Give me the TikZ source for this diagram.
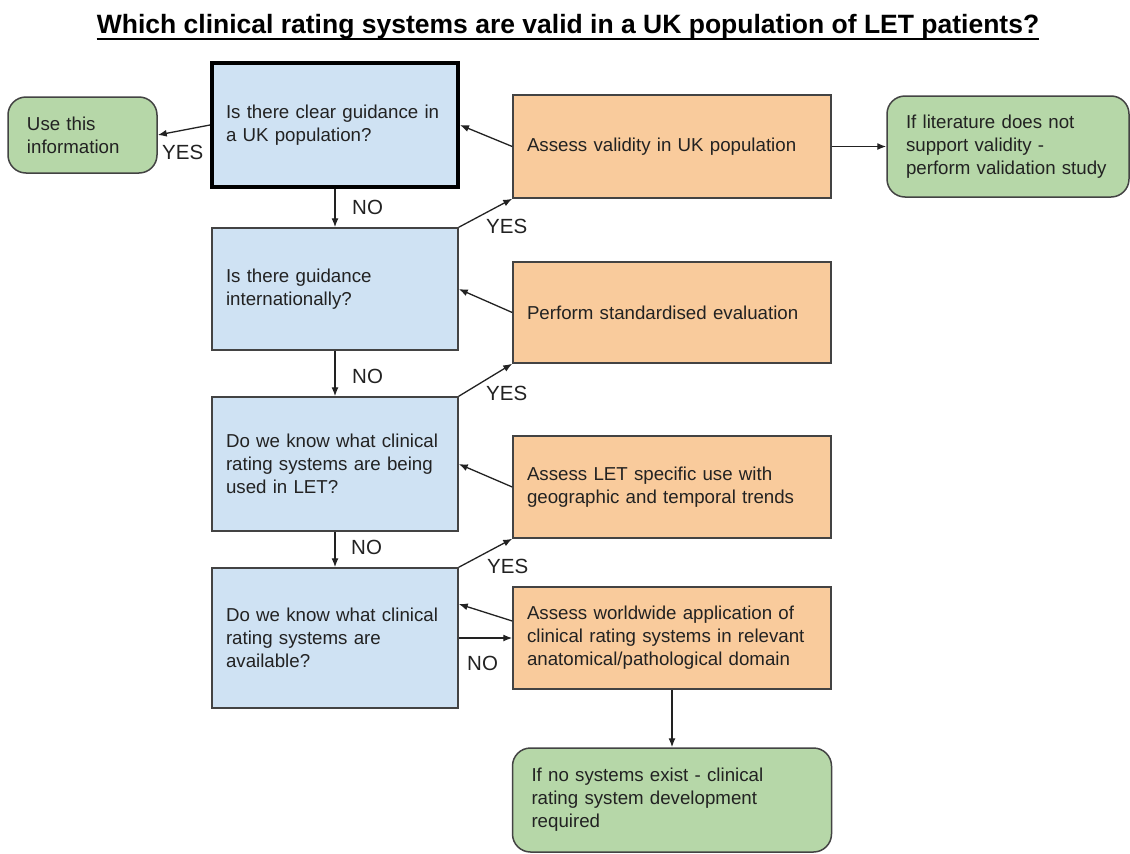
\documentclass[tikz,border=0pt]{standalone}
\usepackage{fontspec}
\setmainfont{Liberation Sans}
\usetikzlibrary{arrows.meta,calc}
\definecolor{qblue}{HTML}{CFE2F3}
\definecolor{qorange}{HTML}{F9CB9C}
\definecolor{qgreen}{HTML}{B6D7A8}
\definecolor{edgec}{HTML}{434343}
\definecolor{ink}{HTML}{222222}
\begin{document}
\begin{tikzpicture}[x=1pt,y=-1pt,
  box/.style={rectangle, draw=edgec, line width=1.5pt, inner xsep=14pt, inner ysep=0pt, align=left, font=\fontsize{18.7}{23}\selectfont, text=ink},
  qbox/.style={box, fill=qblue, text width=218pt, minimum width=246pt},
  abox/.style={box, fill=qorange, text width=290pt, minimum width=318pt},
  gbox/.style={box, fill=qgreen, rounded corners=18pt, inner xsep=19pt},
  lbl/.style={font=\fontsize{20.5}{24}\selectfont, text=ink, inner sep=0pt, anchor=west},
  conn/.style={draw=ink, line width=1.3pt, -{Latex[length=9pt,width=7pt]}}
]
\useasboundingbox (0,0) rectangle (1130,854);
\fill[white] (0,0) rectangle (1130,854);

% title
\node[font=\fontsize{26.5}{30}\selectfont\bfseries, text=black, inner sep=0pt, anchor=base] (title) at (568,33) {Which clinical rating systems are valid in a UK population of LET patients?};
\draw[line width=2pt, black] ($(title.base west)+(0,6)$) -- ($(title.base east)+(0,6)$);

% question boxes
\node[qbox, minimum height=124pt, line width=4pt, draw=black] (q1) at (335,125) {Is there clear guidance in\\a UK population?};
\node[qbox, minimum height=122pt] (q2) at (335,289) {Is there guidance\\internationally?};
\node[qbox, minimum height=134pt] (q3) at (335,464) {Do we know what clinical\\rating systems are being\\used in LET?};
\node[qbox, minimum height=140pt] (q4) at (335,638) {Do we know what clinical\\rating systems are\\available?};

% action boxes
\node[abox, minimum height=103pt] (a1) at (672,146.5) {Assess validity in UK population};
\node[abox, minimum height=101pt] (a2) at (672,312.5) {Perform standardised evaluation};
\node[abox, minimum height=102pt] (a3) at (672,487) {Assess LET specific use with\\geographic and temporal trends};
\node[abox, minimum height=102pt] (a4) at (672,638) {Assess worldwide application of\\clinical rating systems in relevant\\anatomical/pathological domain};

% outcome boxes
\node[gbox, text width=111pt, minimum width=149pt, minimum height=76pt] (g1) at (82.5,135) {Use this\\information};
\node[gbox, text width=204pt, minimum width=242pt, minimum height=101pt] (g2) at (1008,146.5) {If literature does not\\support validity -\\perform validation study};
\node[gbox, text width=281pt, minimum width=319pt, minimum height=104pt] (g3) at (672,800) {If no systems exist - clinical\\rating system development\\required};

% connectors
\draw[conn] (q1.west) -- (g1.east);
\draw[conn] (q1.south) -- (q2.north);
\draw[conn] (q2.south) -- (q3.north);
\draw[conn] (q3.south) -- (q4.north);
\draw[conn] (q2.north east) -- (a1.south west);
\draw[conn] (q3.north east) -- (a2.south west);
\draw[conn] (q4.north east) -- (a3.south west);
\draw[conn] (a1.west) -- (q1.east);
\draw[conn] (a2.west) -- (q2.east);
\draw[conn] (a3.west) -- (q3.east);
\draw[conn] ($(a4.west)+(0,-17)$) -- ($(q4.east)+(0,-34)$);
\draw[conn] (q4.east) -- (a4.west);
\draw[conn] (a1.east) -- (g2.west);
\draw[conn] (a4.south) -- (g3.north);

% labels
\node[lbl] (yes1) at (162,152) {YES};
\node[lbl] (no1) at (352,207) {NO};
\node[lbl] (no2) at (352,376) {NO};
\node[lbl] (no3) at (351,547) {NO};
\node[lbl] (yes2) at (486,226) {YES};
\node[lbl] (yes3) at (486,393) {YES};
\node[lbl] (yes4) at (487,566) {YES};
\node[lbl] (no4) at (467,663) {NO};
\end{tikzpicture}
\end{document}
